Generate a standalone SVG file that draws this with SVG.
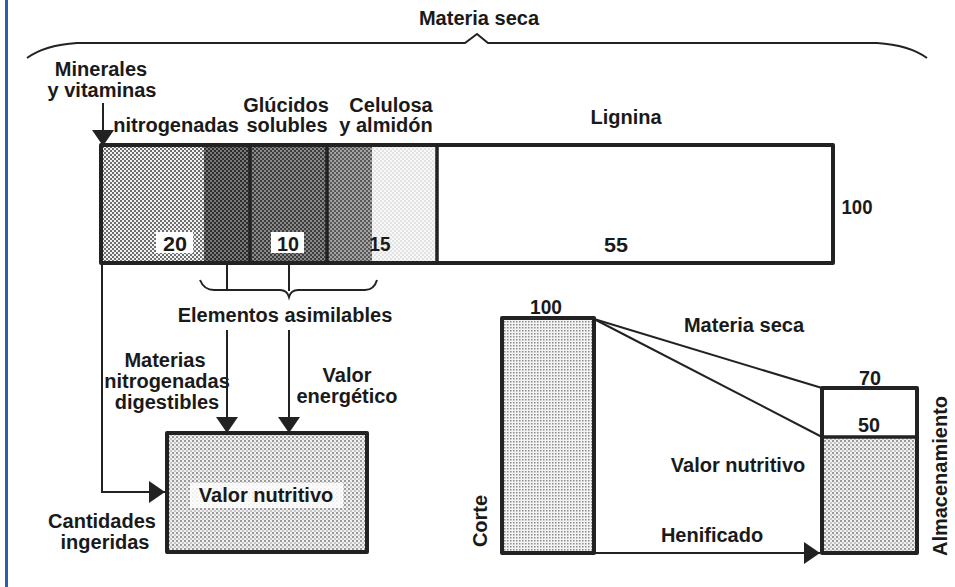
<svg xmlns="http://www.w3.org/2000/svg" width="955" height="587" viewBox="0 0 955 587">
<style>
.t{font-family:"Liberation Sans",Arial,sans-serif;font-weight:bold;font-size:20px;fill:#1a1a1a;text-anchor:middle}
.n{font-family:"Liberation Sans",Arial,sans-serif;font-weight:bold;font-size:21px;fill:#1a1a1a;text-anchor:middle}
.box{stroke:#222;stroke-width:4;stroke-linejoin:round}
.ln{fill:none;stroke:#222;stroke-width:2}
.div{stroke:#222;stroke-width:3.5}
</style>
<defs>
<pattern id="p1" width="4" height="4" patternUnits="userSpaceOnUse"><rect width="4" height="4" fill="#f2f2f2"/><rect width="2" height="2" fill="#6e6e6e"/><rect x="2" y="2" width="2" height="2" fill="#6e6e6e"/></pattern>
<pattern id="p2" width="4" height="4" patternUnits="userSpaceOnUse"><rect width="4" height="4" fill="#7a7a7a"/><rect width="2" height="2" fill="#2c2c2c"/><rect x="2" y="2" width="2" height="2" fill="#2c2c2c"/></pattern>
<pattern id="p3" width="4" height="4" patternUnits="userSpaceOnUse"><rect width="4" height="4" fill="#8a8a8a"/><rect width="2" height="2" fill="#3c3c3c"/><rect x="2" y="2" width="2" height="2" fill="#3c3c3c"/></pattern>
<pattern id="p4" width="4" height="4" patternUnits="userSpaceOnUse"><rect width="4" height="4" fill="#a2a2a2"/><rect width="2" height="2" fill="#585858"/><rect x="2" y="2" width="2" height="2" fill="#585858"/></pattern>
<pattern id="p5" width="4" height="4" patternUnits="userSpaceOnUse"><rect width="4" height="4" fill="#f8f8f8"/><rect width="2" height="2" fill="#e2e2e2"/><rect x="2" y="2" width="2" height="2" fill="#e2e2e2"/></pattern>
<pattern id="pg" width="3" height="3" patternUnits="userSpaceOnUse"><rect width="3" height="3" fill="#f3f3f3"/><rect width="1.5" height="1.5" fill="#8c8c8c"/></pattern>
<pattern id="pd" width="4" height="4" patternUnits="userSpaceOnUse"><rect width="4" height="4" fill="#f1f1f1"/><rect width="2" height="2" fill="#9a9a9a"/><rect x="2" y="2" width="2" height="2" fill="#c6c6c6"/></pattern>
<marker id="ah" viewBox="0 0 16 22" refX="16" refY="11" markerWidth="16" markerHeight="22" markerUnits="userSpaceOnUse" orient="auto"><path d="M0,0 L16,11 L0,22 z" fill="#222"/></marker>
</defs>
<rect width="955" height="587" fill="#ffffff"/>
<line x1="6.5" y1="0" x2="6.5" y2="587" stroke="#2a5cb0" stroke-width="3"/>

<g id="materia-seca-top">
<text class="t" x="479" y="25">Materia seca</text>
</g>

<g id="minerales">
<text class="t" x="101" y="76">Minerales</text>
<text class="t" x="102" y="97">y vitaminas</text>
</g>
<g id="nitrogenadas-top"><text class="t" x="176" y="132">nitrogenadas</text></g>
<g id="glucidos"><text class="t" x="286" y="112">Glúcidos</text><text class="t" x="287" y="132">solubles</text></g>
<g id="celulosa"><text class="t" x="391" y="112">Celulosa</text><text class="t" x="386" y="132">y almidón</text></g>
<g id="lignina-label"><text class="t" x="626" y="124">Lignina</text></g>

<g id="bar">
<rect x="101" y="145" width="103" height="118" fill="url(#p1)"/>
<rect x="204" y="145" width="46" height="118" fill="url(#p2)"/>
<rect x="250" y="145" width="77" height="118" fill="url(#p3)"/>
<rect x="327" y="145" width="45" height="118" fill="url(#p4)"/>
<rect x="372" y="145" width="65" height="118" fill="url(#p5)"/>
<rect x="437" y="145" width="396" height="118" fill="#ffffff"/>
<rect class="box" x="101" y="145" width="732" height="118" fill="none"/>
<line class="div" x1="250" y1="145" x2="250" y2="263"/>
<line class="div" x1="327" y1="145" x2="327" y2="263"/>
<line class="div" x1="437" y1="145" x2="437" y2="263"/>
<rect x="156" y="232" width="37" height="21" fill="#ffffff"/>
<rect x="271" y="232" width="33" height="21" fill="#ffffff"/>
<text class="n" x="175" y="251" textLength="24" lengthAdjust="spacingAndGlyphs">20</text>
<text class="n" x="288" y="251" textLength="22" lengthAdjust="spacingAndGlyphs">10</text>
<text class="n" x="380" y="251" textLength="21" lengthAdjust="spacingAndGlyphs">15</text>
<text class="n" x="616" y="252" textLength="24" lengthAdjust="spacingAndGlyphs">55</text>
</g>
<g id="total-100"><text class="n" x="857" y="214" textLength="31" lengthAdjust="spacingAndGlyphs">100</text></g>

<g id="elementos"><text class="t" x="285" y="322">Elementos asimilables</text></g>
<g id="materias-nitro">
<text class="t" x="165" y="367">Materias</text>
<text class="t" x="167" y="388">nitrogenadas</text>
<text class="t" x="167" y="409">digestibles</text>
</g>
<g id="valor-energetico">
<text class="t" x="347" y="382">Valor</text>
<text class="t" x="347" y="403">energético</text>
</g>
<g id="cantidades">
<text class="t" x="102" y="528">Cantidades</text>
<text class="t" x="105" y="549">ingeridas</text>
</g>
<g id="valor-nutritivo-box">
<rect class="box" x="167" y="433" width="200" height="119" fill="url(#pd)"/>
<rect x="190" y="483" width="153" height="25" fill="#ffffff" opacity="0.85"/>
<text class="t" x="266" y="502">Valor nutritivo</text>
</g>

<g id="corte">
<text class="n" x="546" y="314" textLength="32" lengthAdjust="spacingAndGlyphs">100</text>
<rect class="box" x="502" y="318" width="92" height="235" fill="url(#pg)"/>
<text class="t" transform="translate(487,521) rotate(-90)" x="0" y="0">Corte</text>
</g>
<g id="almacenamiento">
<text class="n" x="870" y="385" textLength="22" lengthAdjust="spacingAndGlyphs">70</text>
<rect x="822" y="437" width="95" height="116" fill="url(#pd)"/>
<rect class="box" x="822" y="388" width="95" height="165" fill="none"/>
<line class="div" x1="822" y1="437" x2="917" y2="437"/>
<text class="n" x="869" y="432" textLength="22" lengthAdjust="spacingAndGlyphs">50</text>
<text class="t" transform="translate(947,476) rotate(-90)" x="0" y="0">Almacenamiento</text>
</g>
<g id="labels-right">
<text class="t" x="744" y="332">Materia seca</text>
<text class="t" x="738" y="472">Valor nutritivo</text>
<text class="t" x="712" y="542">Henificado</text>
</g>

<g id="connectors">
<path class="ln" stroke-width="2.5" d="M27,58 Q45,45 77,43 L465,43 L477,34 L488,43 L877,43 Q909,45 927,58"/>
<line class="ln" x1="103" y1="103" x2="103" y2="146" marker-end="url(#ah)"/>
<polyline class="ln" points="102,263 102,492 165,492" marker-end="url(#ah)"/>
<line class="ln" x1="227" y1="263" x2="227" y2="290"/>
<line class="ln" x1="289" y1="263" x2="289" y2="291"/>
<path class="ln" d="M200,280 Q204,290 214,290 L280,290 Q287,290 289,297 Q291,290 298,290 L365,290 Q374,290 377,280"/>
<line class="ln" x1="227" y1="330" x2="227" y2="433" marker-end="url(#ah)"/>
<line class="ln" x1="289" y1="330" x2="289" y2="433" marker-end="url(#ah)"/>
<line class="ln" x1="594" y1="319" x2="822" y2="388"/>
<line class="ln" x1="594" y1="319" x2="822" y2="437"/>
<line class="ln" x1="594" y1="553" x2="820" y2="553" marker-end="url(#ah)"/>
</g>
</svg>
